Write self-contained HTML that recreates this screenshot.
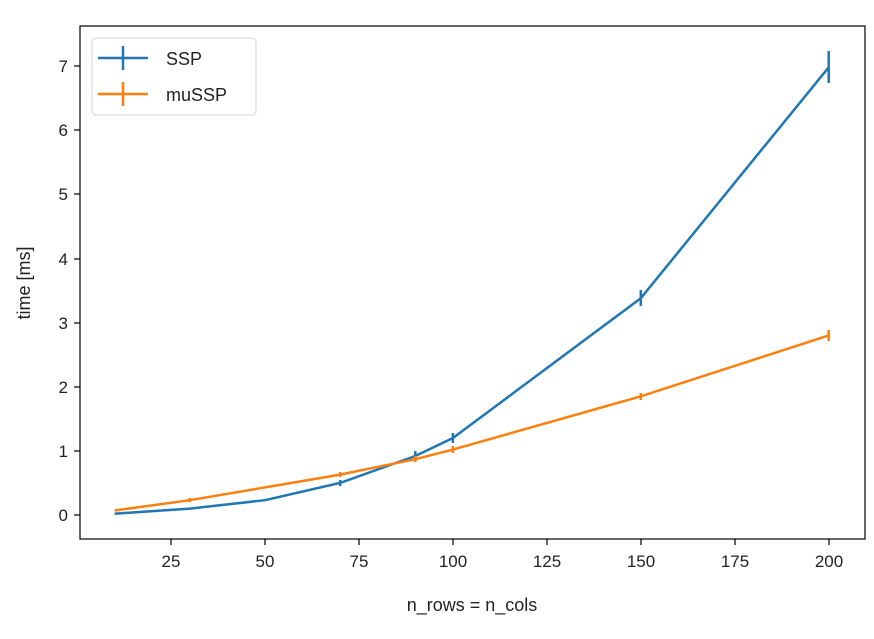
<!DOCTYPE html>
<html><head><style>body{margin:0;background:#fff}</style></head><body>
<svg width="874" height="634" xmlns="http://www.w3.org/2000/svg" font-family="Liberation Sans, DejaVu Sans, sans-serif">
<rect width="874" height="634" fill="#fff"/>
<g stroke="#1f77b4" stroke-width="2.5" fill="none">
<polyline points="114.6,513.7 189.8,508.6 265,500.2 340.2,482.9 415.3,456 452.9,438 640.8,298.2 828.7,67.3"/>
<line x1="828.7" y1="51" x2="828.7" y2="83"/><line x1="640.8" y1="290" x2="640.8" y2="306"/>
<line x1="452.9" y1="433" x2="452.9" y2="443"/><line x1="415.3" y1="451" x2="415.3" y2="461"/>
<line x1="340.2" y1="480" x2="340.2" y2="486"/>
</g>
<g stroke="#ff7f0e" stroke-width="2.5" fill="none">
<polyline points="114.6,510.5 189.8,500.2 265,487.4 340.2,474.6 415.3,459.2 452.9,449.6 640.8,396.3 828.7,335.4"/>
<line x1="828.7" y1="330" x2="828.7" y2="341"/><line x1="640.8" y1="393" x2="640.8" y2="400"/>
<line x1="452.9" y1="446" x2="452.9" y2="453"/><line x1="415.3" y1="456" x2="415.3" y2="462"/>
<line x1="340.2" y1="472" x2="340.2" y2="477"/><line x1="189.8" y1="498" x2="189.8" y2="502"/>
</g>
<rect x="80" y="26" width="785" height="513" fill="none" stroke="#000" stroke-width="1.2"/>
<g stroke="#000" stroke-width="1.2">
<line x1="74" y1="515" x2="80" y2="515"/><line x1="74" y1="451" x2="80" y2="451"/><line x1="74" y1="387" x2="80" y2="387"/><line x1="74" y1="323" x2="80" y2="323"/><line x1="74" y1="259" x2="80" y2="259"/><line x1="74" y1="194" x2="80" y2="194"/><line x1="74" y1="130" x2="80" y2="130"/><line x1="74" y1="66" x2="80" y2="66"/>
<line x1="171" y1="539" x2="171" y2="545"/><line x1="265" y1="539" x2="265" y2="545"/><line x1="359" y1="539" x2="359" y2="545"/><line x1="453" y1="539" x2="453" y2="545"/><line x1="547" y1="539" x2="547" y2="545"/><line x1="641" y1="539" x2="641" y2="545"/><line x1="735" y1="539" x2="735" y2="545"/><line x1="829" y1="539" x2="829" y2="545"/>
</g>
<g font-size="17" fill="#222" text-anchor="end">
<text x="68" y="521">0</text><text x="68" y="457">1</text><text x="68" y="393">2</text><text x="68" y="329">3</text><text x="68" y="265">4</text><text x="68" y="200">5</text><text x="68" y="136">6</text><text x="68" y="72">7</text>
</g>
<g font-size="17" fill="#222" text-anchor="middle">
<text x="171" y="567">25</text><text x="265" y="567">50</text><text x="359" y="567">75</text><text x="453" y="567">100</text><text x="547" y="567">125</text><text x="641" y="567">150</text><text x="735" y="567">175</text><text x="829" y="567">200</text>
<text x="472" y="611" font-size="18">n_rows = n_cols</text>
<text transform="translate(30,283) rotate(-90)" font-size="18">time [ms]</text>
</g>
<rect x="92" y="38" width="164" height="77" rx="4" fill="#fff" stroke="#ddd" stroke-width="1.2"/>
<g stroke-width="2.5">
<line x1="98" y1="58" x2="148" y2="58" stroke="#1f77b4"/><line x1="123" y1="46" x2="123" y2="70" stroke="#1f77b4"/>
<line x1="98" y1="94" x2="148" y2="94" stroke="#ff7f0e"/><line x1="123" y1="82" x2="123" y2="106" stroke="#ff7f0e"/>
</g>
<g font-size="18" fill="#222"><text x="166" y="65">SSP</text><text x="166" y="101">muSSP</text></g>
</svg>
</body></html>
